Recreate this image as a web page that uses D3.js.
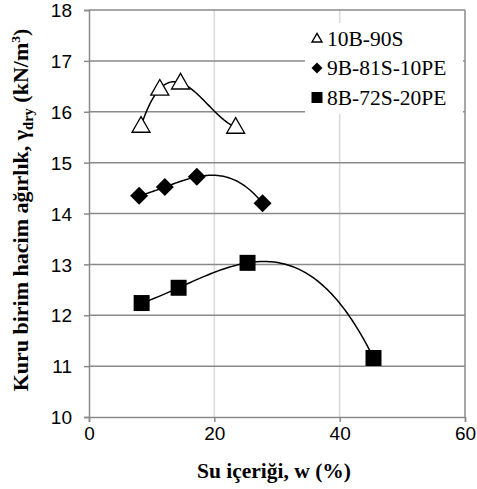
<!DOCTYPE html>
<html><head><meta charset="utf-8">
<script src="https://cdn.jsdelivr.net/npm/d3@7"></script>
<style>body{margin:0;background:#fff}svg{display:block}</style>
</head><body>
<svg id="c" width="477" height="489"></svg>
<script>
const seriesNames = ["10B-90S", "9B-81S-10PE", "8B-72S-20PE"];
const s1x = [8.3, 11.3, 14.6, 23.4];
const s1y = [15.72, 16.45, 16.57, 15.70];
const s2x = [8.0, 12.1, 17.2, 27.7];
const s2y = [14.35, 14.52, 14.72, 14.20];
const s3x = [8.4, 14.3, 25.3, 45.4];
const s3y = [12.24, 12.54, 13.03, 11.16];
const xTicks = [0, 20, 40, 60];
const yTicks = [10, 11, 12, 13, 14, 15, 16, 17, 18];
const xTitle = "Su içeriği, w (%)";

const SERIF = "Liberation Serif";
const SANS = "Liberation Sans";
const svg = d3.select("#c");
const L = 89, R = 465, T = 10, B = 417;
const x = d3.scaleLinear().domain([0, 60]).range([L, R]);
const y = d3.scaleLinear().domain([10, 18]).range([B, T]);

// gridlines
svg.append("g").selectAll("line").data(xTicks.slice(1, -1)).join("line")
  .attr("x1", d => x(d)).attr("x2", d => x(d)).attr("y1", T).attr("y2", B)
  .attr("stroke", "#d9d9d9").attr("stroke-width", 1.5);
svg.append("g").selectAll("line").data(yTicks.slice(1)).join("line")
  .attr("x1", L).attr("x2", R).attr("y1", d => y(d)).attr("y2", d => y(d))
  .attr("stroke", "#8a8a8a").attr("stroke-width", 1.5);
// right border
svg.append("line").attr("x1", R).attr("x2", R).attr("y1", T).attr("y2", B)
  .attr("stroke", "#8a8a8a").attr("stroke-width", 1.5);

// axes
const xAxis = svg.append("g").attr("transform", `translate(0,${B})`)
  .call(d3.axisBottom(x).tickValues(xTicks).tickSize(5).tickPadding(5).tickFormat(d3.format("d")));
const yAxis = svg.append("g").attr("transform", `translate(${L},0)`)
  .call(d3.axisLeft(y).tickValues(yTicks).tickSize(5).tickPadding(12).tickFormat(d3.format("d")));
[xAxis, yAxis].forEach(a => {
  a.attr("font-family", SANS);
  a.select(".domain").attr("stroke", "#8a8a8a").attr("stroke-width", 1.5);
  a.selectAll(".tick line").attr("stroke", "#8a8a8a").attr("stroke-width", 1.5);
  a.selectAll("text").attr("font-family", SANS)
    .attr("font-size", 19).attr("fill", "#000");
});
yAxis.selectAll("text").attr("dy", "0.35em");

// cubic polynomial trendline (least squares, order 3)
function polyfit(xs, ys, order) {
  const n = order + 1;
  const A = Array.from({length: n}, () => new Array(n + 1).fill(0));
  for (let i = 0; i < n; i++) {
    for (let j = 0; j < n; j++) A[i][j] = d3.sum(xs, v => Math.pow(v, i + j));
    A[i][n] = d3.sum(xs, (v, k) => ys[k] * Math.pow(v, i));
  }
  for (let i = 0; i < n; i++) {
    let p = i;
    for (let r = i + 1; r < n; r++) if (Math.abs(A[r][i]) > Math.abs(A[p][i])) p = r;
    [A[i], A[p]] = [A[p], A[i]];
    for (let r = 0; r < n; r++) {
      if (r === i) continue;
      const f = A[r][i] / A[i][i];
      for (let c = i; c <= n; c++) A[r][c] -= f * A[i][c];
    }
  }
  return A.map((row, i) => row[n] / row[i]);
}
const series = [[s1x, s1y], [s2x, s2y], [s3x, s3y]];
const line = d3.line().x(d => x(d[0])).y(d => y(d[1]));
series.forEach(([xs, ys]) => {
  const c = polyfit(xs, ys, 3);
  const x0 = d3.min(xs), x1 = d3.max(xs);
  const pts = d3.range(0, 101).map(k => {
    const xv = x0 + (x1 - x0) * k / 100;
    return [xv, c[0] + c[1] * xv + c[2] * xv * xv + c[3] * xv * xv * xv];
  });
  svg.append("path").datum(pts).attr("d", line)
    .attr("fill", "none").attr("stroke", "#000").attr("stroke-width", 1.5);
});

// markers
const triPath = s => { const h = s * 0.866; return `M0,${-h*0.6}L${s/2},${h*0.4}L${-s/2},${h*0.4}Z`; };
const diaPath = s => `M0,${-s/2}L${s/2},0L0,${s/2}L${-s/2},0Z`;
const sqPath = s => `M${-s/2},${-s/2}h${s}v${s}h${-s}Z`;

svg.append("g").selectAll("path").data(d3.zip(s1x, s1y)).join("path")
  .attr("transform", d => `translate(${x(d[0])},${y(d[1])})`)
  .attr("d", triPath(18)).attr("fill", "#fff").attr("stroke", "#000").attr("stroke-width", 1.3);
svg.append("g").selectAll("path").data(d3.zip(s2x, s2y)).join("path")
  .attr("transform", d => `translate(${x(d[0])},${y(d[1])})`)
  .attr("d", diaPath(18)).attr("fill", "#000");
svg.append("g").selectAll("path").data(d3.zip(s3x, s3y)).join("path")
  .attr("transform", d => `translate(${x(d[0])},${y(d[1])})`)
  .attr("d", sqPath(16)).attr("fill", "#000");

// legend
const lg = svg.append("g");
lg.append("rect").attr("x", 305).attr("y", 23).attr("width", 158).attr("height", 91).attr("fill", "#fff");
const legMarks = [triPath(10), diaPath(11), sqPath(11)];
seriesNames.forEach((nm, i) => {
  const yy = 38.5 + i * 29.5;
  lg.append("path").attr("transform", `translate(317,${yy})`).attr("d", legMarks[i])
    .attr("fill", i === 0 ? "#fff" : "#000").attr("stroke", i === 0 ? "#000" : "none").attr("stroke-width", 1.4);
  lg.append("text").attr("x", 327).attr("y", yy).attr("dy", "0.33em")
    .style("font-family", SERIF).attr("font-size", 21.5)
    .text(nm);
});

// titles
svg.append("text").attr("x", 274).attr("y", 478).attr("text-anchor", "middle")
  .style("font-family", SERIF).attr("font-size", 21.5)
  .attr("font-weight", "bold").text(xTitle);
const yt = svg.append("text").attr("transform", "translate(28,210) rotate(-90)").attr("text-anchor", "middle")
  .style("font-family", SERIF).attr("font-size", 22)
  .attr("font-weight", "bold");
yt.append("tspan").text("Kuru birim hacim ağırlık, γ");
yt.append("tspan").attr("font-size", 14.5).attr("dy", 5).text("dry");
yt.append("tspan").attr("dy", -5).text(" (kN/m");
yt.append("tspan").attr("font-size", 13.5).attr("dy", -8).text("3");
yt.append("tspan").attr("dy", 8).text(")");
</script>
</body></html>
